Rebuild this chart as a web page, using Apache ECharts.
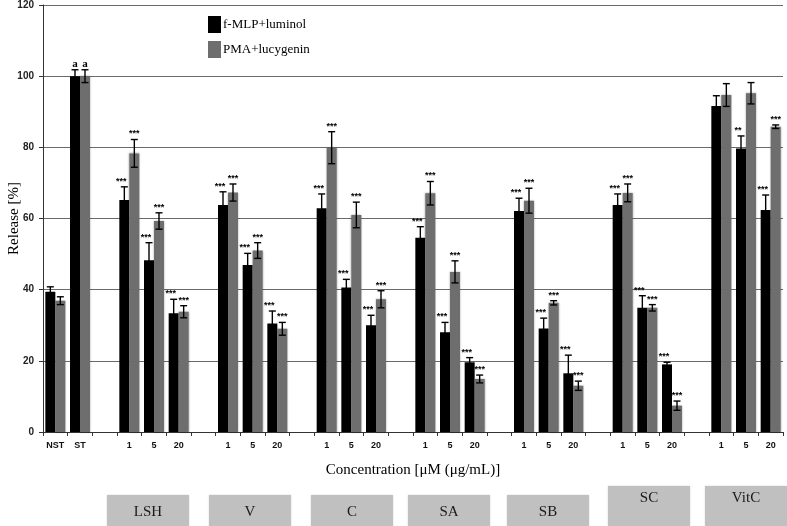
<!DOCTYPE html>
<html><head><meta charset="utf-8">
<script src="https://cdn.jsdelivr.net/npm/echarts/dist/echarts.min.js"></script>
<style>html,body{margin:0;padding:0;background:#fff}#c{width:787px;height:526px}</style>
</head><body><div id="c"></div>
<script>
// ---- data ----
const categories = ['NST','ST','', '1','5','20','', '1','5','20','', '1','5','20','', '1','5','20','', '1','5','20','', '1','5','20','', '1','5','20'];
const seriesNames = ['f-MLP+luminol', 'PMA+lucygenin'];
const blackValues = [39.4,100,null, 65.2,48.3,33.4,null, 63.8,46.9,30.5,null, 62.9,40.6,30.0,null, 54.6,28.0,19.6,null, 62.1,29.1,16.5,null, 63.8,34.9,19.0,null, 91.6,79.7,62.4];
const grayValues  = [36.9,100,null, 78.3,59.3,33.8,null, 67.3,51.0,29.0,null, 79.9,61.0,37.3,null, 67.1,45.0,14.9,null, 65.0,36.3,13.0,null, 67.2,34.9,7.4,null, 94.7,95.2,85.8];
const blackErr = [1.4,1.8,null, 3.7,4.9,3.9,null, 3.7,3.3,3.5,null, 4.0,2.3,2.8,null, 3.1,2.8,1.3,null, 3.6,2.9,5.1,null, 3.1,3.4,0.6,null, 2.9,3.5,4.2];
const grayErr  = [1.1,1.8,null, 3.9,2.3,1.7,null, 2.4,2.2,1.8,null, 4.5,3.6,2.4,null, 3.3,3.1,1.1,null, 3.5,0.6,1.3,null, 2.5,0.9,1.3,null, 3.2,3.0,0.5];
const blackMarks = ['','a','', '***','***','***','', '***','***','***','', '***','***','***','', '***','***','***','', '***','***','***','', '***','***','***','', '','**','***'];
const grayMarks  = ['','a','', '***','***','***','', '***','***','***','', '***','***','***','', '***','***','***','', '***','***','***','', '***','***','***','', '','','***'];
const groupNames = ['LSH','V','C','SA','SB','SC','VitC'];
const yTicks = {min:0, max:120, interval:20};
const yAxisTitle = 'Release [%]';
const xAxisTitle = 'Concentration [\u03BCM (\u03BCg/mL)]';

// ---- chart ----
function errData(vals, errs){
  const out = [];
  vals.forEach((v,i)=>{ if(v!=null) out.push([i, v, errs[i]]); });
  return out;
}
function makeErr(offset, marks, labOff){
  return function(params, api){
    const idx = api.value(0), v = api.value(1), e = api.value(2);
    const c = api.coord([idx, v]);
    const top = api.coord([idx, v+e]);
    const bot = api.coord([idx, v-e]);
    const x = c[0] + offset, h = 3.5;
    const st = {stroke:'#000', lineWidth:1.4};
    const ch = [
      {type:'line', shape:{x1:x,y1:top[1],x2:x,y2:bot[1]}, style:st},
      {type:'line', shape:{x1:x-h,y1:top[1],x2:x+h,y2:top[1]}, style:st},
      {type:'line', shape:{x1:x-h,y1:bot[1],x2:x+h,y2:bot[1]}, style:st}
    ];
    const m = marks[idx];
    if(m){
      const isA = m==='a';
      ch.push({type:'text', style:{text:m, x:x+(isA?0:labOff), y:top[1]-(isA?0:1), align:'center', verticalAlign:'bottom',
        font: isA ? 'bold 11px "Liberation Serif", serif' : 'bold 9px "Liberation Sans", sans-serif', fill:'#000'}});
    }
    return {type:'group', children:ch};
  };
}
const chart = echarts.init(document.getElementById('c'));
const boxStyle = {fill:'#c0c0c0', shadowBlur:2, shadowColor:'rgba(0,0,0,0.15)'};
const boxText = {fill:'#1a1a1a', font:'15px "Liberation Serif", serif', align:'center', verticalAlign:'middle'};
const boxes = [[107,495],[209,495],[311,495],[408,495],[507,495],[608,486],[705,486]];
const graphic = groupNames.map((n,i)=>({
  type:'group', left:boxes[i][0], top:boxes[i][1],
  children:[
    {type:'rect', shape:{x:0,y:0,width:82,height:40}, style:boxStyle},
    {type:'text', x:41, y: i>=5 ? 12 : 17, style:Object.assign({text:n}, boxText)}
  ]
}));
chart.setOption({
  animation:false,
  backgroundColor:'#fff',
  grid:{left:43, right:4, top:5, bottom:94, containLabel:false, outerBoundsMode:'none'},
  legend:{
    orient:'vertical', left:203, top:11, itemWidth:13, itemHeight:17, itemGap:8,
    icon:'rect', data:seriesNames,
    textStyle:{fontFamily:'"Liberation Serif", serif', fontSize:13, color:'#000', padding:[0,0,0,-3]}
  },
  xAxis:{
    type:'category', data:categories,
    name:xAxisTitle, nameLocation:'middle', nameGap:31,
    nameTextStyle:{fontFamily:'"Liberation Serif", serif', fontSize:15, color:'#000'},
    axisLine:{lineStyle:{color:'#333', width:1}},
    axisTick:{show:true, length:4, lineStyle:{color:'#333'}},
    axisLabel:{interval:0, margin:9, fontFamily:'"Liberation Sans", sans-serif', fontWeight:'bold', fontSize:9, color:'#111'}
  },
  yAxis:{
    type:'value', min:yTicks.min, max:yTicks.max, interval:yTicks.interval,
    name:yAxisTitle, nameLocation:'middle', nameGap:21, nameMoveOverlap:false,
    nameTextStyle:{fontFamily:'"Liberation Serif", serif', fontSize:15, color:'#000'},
    axisLine:{show:true, lineStyle:{color:'#333'}},
    axisTick:{show:true, length:4, lineStyle:{color:'#333'}},
    axisLabel:{margin:9, fontFamily:'"Liberation Sans", sans-serif', fontWeight:'bold', fontSize:10, color:'#222'},
    splitLine:{lineStyle:{color:'#6a6a6a', width:1}}
  },
  series:[
    {name:seriesNames[0], type:'bar', data:blackValues, barWidth:10, barGap:'0%',
     itemStyle:{color:'#000'}},
    {name:seriesNames[1], type:'bar', data:grayValues, barWidth:10,
     itemStyle:{color:'#6e6e6e', shadowBlur:2, shadowColor:'rgba(0,0,0,0.35)'}},
    {type:'custom', data:errData(blackValues, blackErr), renderItem:makeErr(-5, blackMarks, -3), z:5, silent:true},
    {type:'custom', data:errData(grayValues, grayErr), renderItem:makeErr(5, grayMarks, 0), z:5, silent:true}
  ],
  graphic:graphic
});
</script>
</body></html>
